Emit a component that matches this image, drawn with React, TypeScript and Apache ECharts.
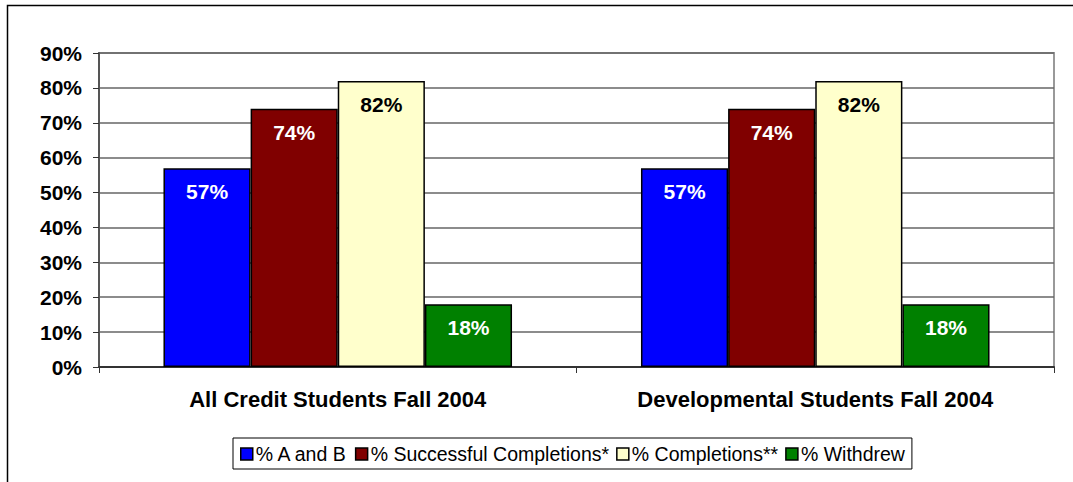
import React, { useEffect, useRef } from "react";
import * as echarts from "echarts";

const categories = ["All Credit Students Fall 2004", "Developmental Students Fall 2004"];
const seriesNames = ["% A and B", "% Successful Completions*", "% Completions**", "% Withdrew"];
const seriesColors = ["#0000FF", "#800000", "#FFFFCC", "#008000"];
const labelColors = ["#FFFFFF", "#FFFFFF", "#000000", "#FFFFFF"];
const aAndB = [57, 57];
const successful = [74, 74];
const completions = [82, 82];
const withdrew = [18, 18];
const seriesValues = [aAndB, successful, completions, withdrew];

export default function App() {
  const ref = useRef<HTMLDivElement>(null);
  useEffect(() => {
    if (!ref.current) return;
    const chart = echarts.init(ref.current, null, { renderer: "svg" });
    const font = "Arial, 'Liberation Sans', sans-serif";
    chart.setOption({
      animation: false,
      backgroundColor: "#FFFFFF",
      graphic: [
        {
          type: "rect",
          shape: { x: 7.5, y: 5.5, width: 1080, height: 500 },
          style: { fill: "none", stroke: "#000000", lineWidth: 1.5 },
          silent: true,
          z: -10,
        },
      ],
      grid: {
        left: 99,
        right: 19,
        top: 53,
        bottom: 115,
        show: true,
        borderColor: "#999999",
        borderWidth: 2,
        containLabel: false,
      },
      legend: {
        bottom: 13,
        left: 233,
        itemWidth: 12,
        itemHeight: 12,
        itemGap: 7,
        icon: "rect",
        borderColor: "#000000",
        borderWidth: 1,
        padding: [6, 7, 5, 7],
        textStyle: { fontFamily: font, fontSize: 19.5, color: "#000000", padding: [0, 0, 0, -2] },
        itemStyle: { borderColor: "#000000", borderWidth: 1.5 },
        data: seriesNames,
      },
      xAxis: {
        type: "category",
        data: categories,
        axisLine: { lineStyle: { color: "#333333", width: 2 } },
        axisTick: { show: true, length: 6, lineStyle: { color: "#333333" } },
        axisLabel: {
          fontFamily: font,
          fontSize: 22,
          fontWeight: "bold",
          color: "#000000",
          margin: 21,
        },
      },
      yAxis: {
        type: "value",
        min: 0,
        max: 90,
        interval: 10,
        axisLine: { show: true, lineStyle: { color: "#555555", width: 2 } },
        axisTick: { show: true, length: 6, lineStyle: { color: "#333333" } },
        axisLabel: {
          formatter: "{value}%",
          fontFamily: font,
          fontSize: 21,
          fontWeight: "bold",
          color: "#000000",
          margin: 17,
        },
        splitLine: { lineStyle: { color: "#666666", width: 1.5 } },
      },
      series: seriesNames.map((name, i) => ({
        name,
        type: "bar",
        data: seriesValues[i],
        barGap: "0%",
        barCategoryGap: "27%",
        itemStyle: { color: seriesColors[i], borderColor: "#000000", borderWidth: 1.5 },
        label: {
          show: true,
          position: "insideTop",
          distance: 13,
          formatter: "{c}%",
          fontFamily: font,
          fontSize: 21,
          fontWeight: "bold",
          color: labelColors[i],
        },
      })),
    });
    return () => chart.dispose();
  }, []);
  return (
    <div
      ref={ref}
      style={{ position: "fixed", left: 0, top: 0, width: 1073, height: 482 }}
    />
  );
}
